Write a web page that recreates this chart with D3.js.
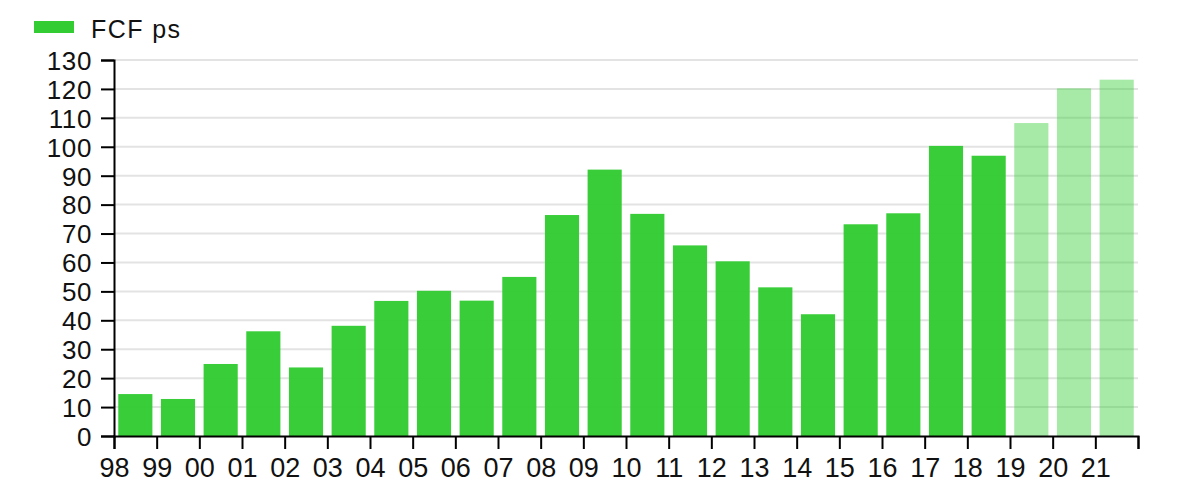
<!DOCTYPE html>
<html>
<head>
<meta charset="utf-8">
<script src="https://cdn.jsdelivr.net/npm/d3@7"></script>
<style>
  html, body { margin: 0; padding: 0; background: #fff; }
  svg { display: block; font-family: "Liberation Sans", Arial, sans-serif; }
</style>
</head>
<body>
<svg id="chart" width="1200" height="500"></svg>
<script>
const categories = ["98","99","00","01","02","03","04","05","06","07","08","09","10","11","12","13","14","15","16","17","18","19","20","21"];
const fcfValues = [14.5, 12.8, 24.9, 36.2, 23.7, 38.1, 46.7, 50.2, 46.8, 55.0, 76.4, 92.1, 76.8, 65.9, 60.4, 51.4, 42.1, 73.2, 77.0, 100.3, 96.9, 108.2, 120.2, 123.2];
const isEstimate = [false,false,false,false,false,false,false,false,false,false,false,false,false,false,false,false,false,false,false,false,false,true,true,true];
const yTicks = [0,10,20,30,40,50,60,70,80,90,100,110,120,130];
const seriesName = "FCF ps";

const svg = d3.select("#chart");
const mLeft = 114, mRight = 1138, mTop = 60, mBottom = 436;

const x = d3.scaleBand().domain(categories).range([mLeft, mRight]).paddingInner(0.2).paddingOuter(0.1);
const xTick = d3.scaleLinear().domain([0, categories.length]).range([mLeft, mRight]);
const y = d3.scaleLinear().domain([0, 130]).range([mBottom, mTop]);

// grid
svg.append("g").selectAll("line").data(yTicks.filter(d => d > 0)).join("line")
  .attr("x1", mLeft).attr("x2", mRight)
  .attr("y1", d => y(d)).attr("y2", d => y(d))
  .attr("stroke", "#e3e3e3").attr("stroke-width", 2);

// bars
svg.append("g").selectAll("rect").data(categories).join("rect")
  .attr("x", d => x(d))
  .attr("width", x.bandwidth())
  .attr("y", (d, i) => y(fcfValues[i]))
  .attr("height", (d, i) => y(0) - y(fcfValues[i]))
  .attr("fill", "#33cc33")
  .attr("fill-opacity", (d, i) => isEstimate[i] ? 0.43 : 0.97);

// y axis
const yAxis = svg.append("g").attr("transform", `translate(${mLeft},0)`)
  .call(d3.axisLeft(y).tickValues(yTicks).tickSize(13).tickPadding(9));
yAxis.select(".domain").attr("stroke", "#000").attr("stroke-width", 2);
yAxis.selectAll(".tick line").attr("stroke", "#000").attr("stroke-width", 2);
yAxis.selectAll("text").attr("font-size", 26).attr("letter-spacing", 0.6).attr("fill", "#111").attr("dy", "0.36em");

// x axis
const xAxis = svg.append("g").attr("transform", `translate(0,${mBottom})`)
  .call(d3.axisBottom(xTick).tickValues(d3.range(categories.length + 1))
    .tickFormat(i => categories[i] || "").tickSize(13).tickPadding(9));
xAxis.select(".domain").attr("stroke", "#000").attr("stroke-width", 2);
xAxis.selectAll(".tick line").attr("stroke", "#000").attr("stroke-width", 2);
xAxis.selectAll("text").attr("font-size", 27).attr("fill", "#111");

// legend
const lg = svg.append("g");
lg.append("rect").attr("x", 34).attr("y", 21).attr("width", 40).attr("height", 12).attr("fill", "#33cc33");
lg.append("text").attr("x", 91).attr("y", 38).attr("font-size", 25).attr("letter-spacing", 1.4).attr("fill", "#111").text(seriesName);
</script>
</body>
</html>
